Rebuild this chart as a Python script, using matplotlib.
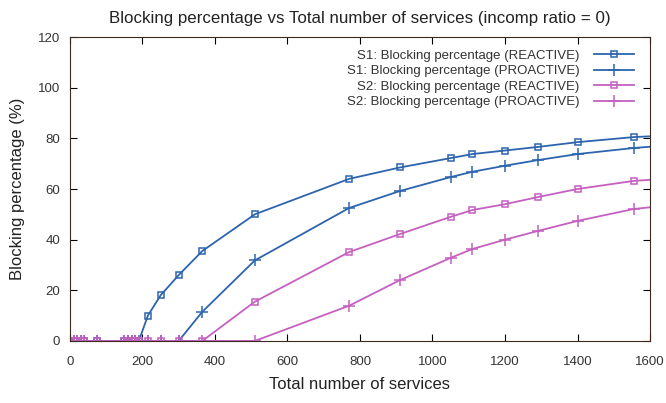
import matplotlib.pyplot as plt

plt.rcParams["font.family"] = ["Liberation Sans", "DejaVu Sans"]

# x values (total number of services)
services = [0, 10, 20, 30, 40, 75, 150, 160, 170, 180, 190, 215, 250, 300,
            365, 510, 770, 910, 1050, 1110, 1200, 1290, 1400, 1555, 1700]

s1_reactive = [0, 0, 0, 0, 0, 0, 0, 0, 0, 0, 0, 10, 18, 26,
               35.5, 50, 64, 68.5, 72.2, 73.8, 75.2, 76.6, 78.5, 80.5, 81.5]
s1_proactive = [0, 0, 0, 0, 0, 0, 0, 0, 0, 0, 0, 0, 0, 0,
                11.5, 31.8, 52.5, 59.2, 64.7, 66.8, 69.2, 71.4, 73.8, 76.2, 77.8]
s2_reactive = [0, 0, 0, 0, 0, 0, 0, 0, 0, 0, 0, 0, 0, 0,
               0, 15.5, 35.1, 42.2, 49, 51.7, 54, 56.8, 60, 63.2, 64.6]
s2_proactive = [0, 0, 0, 0, 0, 0, 0, 0, 0, 0, 0, 0, 0, 0,
                0, 0, 13.9, 24, 32.8, 36.3, 40, 43.4, 47.4, 52.1, 54.3]

labels = ["S1: Blocking percentage (REACTIVE)",
          "S1: Blocking percentage (PROACTIVE)",
          "S2: Blocking percentage (REACTIVE)",
          "S2: Blocking percentage (PROACTIVE)"]

blue = "#2c64ad"
pink = "#c560c1"

fig = plt.figure(figsize=(6.66, 4.03), dpi=100)
ax = fig.add_axes([0.105, 0.154, 0.871, 0.754])

ax.plot(services, s1_reactive, color=blue, lw=1.3, marker="s", ms=5,
        mfc="none", mec=blue, mew=1.1, label=labels[0])
ax.plot(services, s1_proactive, color=blue, lw=1.3, marker="+", ms=8,
        mew=1.1, label=labels[1])
ax.plot(services, s2_reactive, color=pink, lw=1.3, marker="s", ms=5,
        mfc="none", mec=pink, mew=1.1, label=labels[2])
ax.plot(services, s2_proactive, color=pink, lw=1.3, marker="+", ms=8,
        mew=1.1, label=labels[3])

ax.set_xlim(0, 1600)
ax.set_ylim(0, 120)
ax.set_xticks(range(0, 1601, 200))
ax.set_yticks(range(0, 121, 20))
ax.tick_params(direction="in", top=True, right=True, length=5,
               labelsize=9.5, labelcolor="#333333")
ax.tick_params(axis="x", pad=11)
ax.tick_params(axis="y", pad=7)
for s in ax.spines.values():
    s.set_color("#3a2a20")

ax.set_title("Blocking percentage vs Total number of services (incomp ratio = 0)",
             fontsize=12.2, color="#222222", pad=10)
ax.set_xlabel("Total number of services", fontsize=12, color="#222222")
ax.xaxis.set_label_coords(0.5, -0.12)
ax.set_ylabel("Blocking percentage (%)", fontsize=12, color="#222222",
              labelpad=9)

leg = ax.legend(loc="upper right", bbox_to_anchor=(0.988, 0.99),
                frameon=False, markerfirst=False,
                fontsize=9.5, handlelength=3, handletextpad=1.1,
                labelspacing=0.25, borderaxespad=0.3)
for t in leg.get_texts():
    t.set_ha("right")
    t.set_color("#333333")
leg._legend_box.align = "right"

plt.savefig("out.png", dpi=100)
